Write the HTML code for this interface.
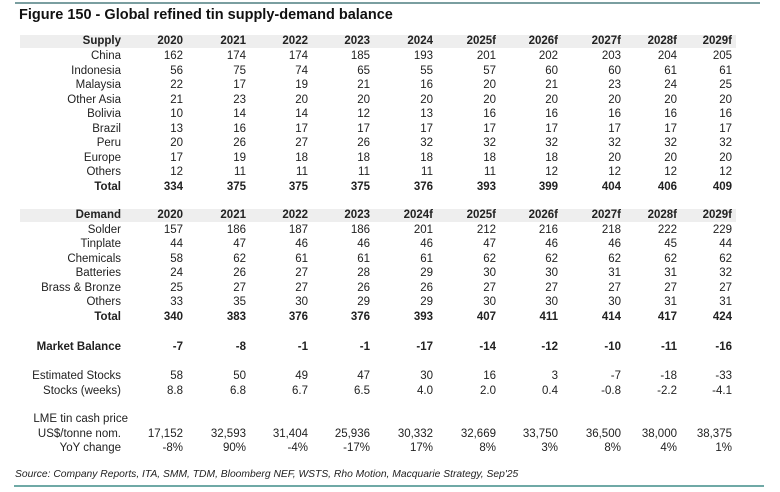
<!DOCTYPE html>
<html><head><meta charset="utf-8"><style>
body{margin:0;background:#fff;}
#c{position:relative;width:780px;height:492px;overflow:hidden;font-family:"Liberation Sans",Arial,sans-serif;color:#222;}
.t{position:absolute;font-size:11.5px;line-height:14px;white-space:nowrap;transform:translateX(-100%);}
.b{font-weight:bold;}
.band{position:absolute;left:20px;width:716px;height:13px;background:#eeeeee;}
</style></head><body>
<div id="c">
<div style="position:absolute;left:15px;top:2px;width:745px;height:2px;background:#7a9ea0"></div>
<div style="position:absolute;left:19px;top:7px;font-size:14.5px;font-weight:bold;color:#111;white-space:nowrap">Figure 150 - Global refined tin supply-demand balance</div>
<div class="band" style="top:35px"></div>
<div class="band" style="top:209px"></div>
<div style="position:absolute;left:15px;top:469px;font-size:10.3px;font-style:italic;color:#222;white-space:nowrap">Source: Company Reports, ITA, SMM, TDM, Bloomberg NEF, WSTS, Rho Motion, Macquarie Strategy, Sep'25</div>
<div style="position:absolute;left:14px;top:485px;width:750px;height:2px;background:#6fa9a6"></div>
</div>
<script>
const colX=[121,183,246,308,370,433,496,558,621,677,732];
const rows=[
 [34,true,["Supply","2020","2021","2022","2023","2024","2025f","2026f","2027f","2028f","2029f"]],
 [49,false,["China","162","174","174","185","193","201","202","203","204","205"]],
 [64,false,["Indonesia","56","75","74","65","55","57","60","60","61","61"]],
 [78,false,["Malaysia","22","17","19","21","16","20","21","23","24","25"]],
 [93,false,["Other Asia","21","23","20","20","20","20","20","20","20","20"]],
 [107,false,["Bolivia","10","14","14","12","13","16","16","16","16","16"]],
 [122,false,["Brazil","13","16","17","17","17","17","17","17","17","17"]],
 [136,false,["Peru","20","26","27","26","32","32","32","32","32","32"]],
 [151,false,["Europe","17","19","18","18","18","18","18","20","20","20"]],
 [165,false,["Others","12","11","11","11","11","11","12","12","12","12"]],
 [180,true,["Total","334","375","375","375","376","393","399","404","406","409"]],
 [208,true,["Demand","2020","2021","2022","2023","2024f","2025f","2026f","2027f","2028f","2029f"]],
 [223,false,["Solder","157","186","187","186","201","212","216","218","222","229"]],
 [237,false,["Tinplate","44","47","46","46","46","47","46","46","45","44"]],
 [252,false,["Chemicals","58","62","61","61","61","62","62","62","62","62"]],
 [266,false,["Batteries","24","26","27","28","29","30","30","31","31","32"]],
 [281,false,["Brass & Bronze","25","27","27","26","26","27","27","27","27","27"]],
 [295,false,["Others","33","35","30","29","29","30","30","30","31","31"]],
 [310,true,["Total","340","383","376","376","393","407","411","414","417","424"]],
 [340,true,["Market Balance","-7","-8","-1","-1","-17","-14","-12","-10","-11","-16"]],
 [369,false,["Estimated Stocks","58","50","49","47","30","16","3","-7","-18","-33"]],
 [384,false,["Stocks (weeks)","8.8","6.8","6.7","6.5","4.0","2.0","0.4","-0.8","-2.2","-4.1"]],
 [412,false,["LME tin cash price"]],
 [427,false,["US$/tonne nom.","17,152","32,593","31,404","25,936","30,332","32,669","33,750","36,500","38,000","38,375"]],
 [441,false,["YoY change","-8%","90%","-4%","-17%","17%","8%","3%","8%","4%","1%"]]
];
const c=document.getElementById('c');
rows.forEach(r=>{
 r[2].forEach((txt,i)=>{
  const s=document.createElement('div');
  s.className='t'+(r[1]?' b':'');
  s.style.left=colX[i]+'px';s.style.top=r[0]+'px';
  if(i===0&&r[2].length===1){s.style.left='128px';}
  s.textContent=txt;
  
  
  c.appendChild(s);
 });
});
</script>
</body></html>
